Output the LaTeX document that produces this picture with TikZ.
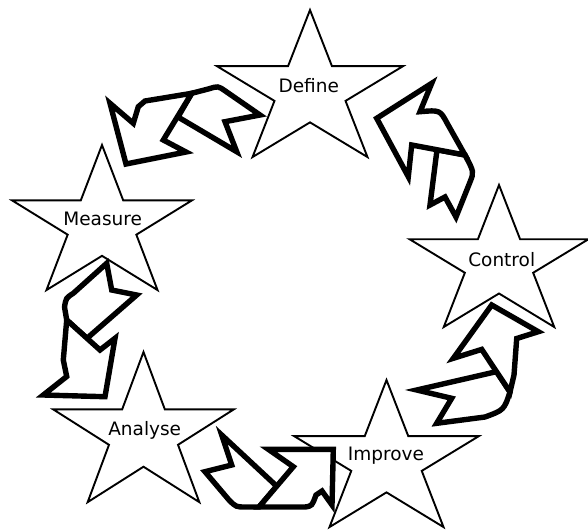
\documentclass[tikz,border=0pt]{standalone}
\usepackage{fontspec}
\setmainfont{DejaVu Sans}
\begin{document}
\begin{tikzpicture}[x=1pt,y=-1pt,
  starline/.style={draw=black,fill=white,line width=1.9pt,line join=miter},
  arr/.style={draw=black,fill=white,line width=5.4pt,line join=miter,miter limit=6},
  lbl/.style={font=\fontsize{18.5}{20}\selectfont,inner sep=0pt,anchor=base}]
\useasboundingbox[fill=white] (0,0) rectangle (588,530);
\newcommand\mystar[4]{%
  \draw[starline] plot[samples at={0,...,9}]
   ({#1+#3*(1-0.618*mod(\x,2))*cos(90+36*\x)},{#2-#4*(1-0.618*mod(\x,2))*sin(90+36*\x)}) -- cycle;}
% stars
\mystar{310}{91.3}{97.8}{81.3}
\mystar{102}{225.2}{94.5}{80.2}
\mystar{499}{263.5}{94}{78.5}
\mystar{143.5}{435}{95}{83}
\mystar{386.5}{461.3}{97}{81.3}
% labels
\node[lbl] (define) at (308.8,92.7) {Define};
\node[lbl] (measure) at (102.7,225.7) {Measure};
\node[lbl] (control) at (501.7,266) {Control};
\node[lbl] (analyse) at (144.7,435) {Analyse};
\node[lbl] (improve) at (386,460.7) {Improve};
% arrow A: Define -> Measure
\draw[arr] (191.7,93.3) -- (209,88.8) .. controls (218,86) .. (225,90.8) -- (260,115) -- (225,121.7) -- (236.7,151.7) -- (178,117) -- cycle;
\draw[arr] (110,103.3) -- (133.3,123.3) -- (138.3,106.7) -- (145,101) -- (191.7,93.3) -- (163.3,140) -- (186,152) -- (126,164) -- cycle;
% arrow B: Control -> Define
\draw[arr] (437,149.8) -- (430,205) -- (445,197) -- (456,217) -- (470,182) .. controls (474,172) .. (465,155) -- cycle;
\draw[arr] (376.7,118.3) -- (431.7,83.3) -- (420,111.7) .. controls (440,110) .. (447,123) -- (465,155) -- (411.7,145) -- (408.3,176.7) -- cycle;
% arrow C: Measure -> Analyse
\draw[arr] (66.7,320) -- (64.5,307) .. controls (66,298) .. (73.3,293.3) -- (106.7,263.3) -- (111.7,290) -- (136.7,295) -- (87,338.3) -- cycle;
\draw[arr] (66.7,320) -- (63.3,360) -- (66.7,376.5) -- (43.3,395) -- (105,396.7) -- (115,338.3) -- (100,350) -- cycle;
% arrow D: Analyse -> Improve
\draw[arr] (221.7,435) -- (231.7,465) -- (205,471.7) -- (229,500) .. controls (236,507) .. (246,507) -- (259,507) -- (276.7,486.2) -- cycle;
\draw[arr] (268.3,449.3) -- (333.3,449.3) -- (332,505) -- (322,491) -- (316,495) .. controls (312,506) .. (305,507) -- (259,507) -- (293.3,466.7) -- cycle;
% arrow E: Improve -> Control
\draw[arr] (510,392) .. controls (504,410) .. (485,417) -- (436.7,423.3) -- (451.7,398.3) -- (416.7,390) -- (496.6,371.6) -- cycle;
\draw[arr] (481.7,349.4) -- (453.3,358.3) -- (491.7,305) -- (538.3,331.7) -- (516.7,338.5) -- (514,375) -- (510,392) -- cycle;
\end{tikzpicture}
\end{document}
